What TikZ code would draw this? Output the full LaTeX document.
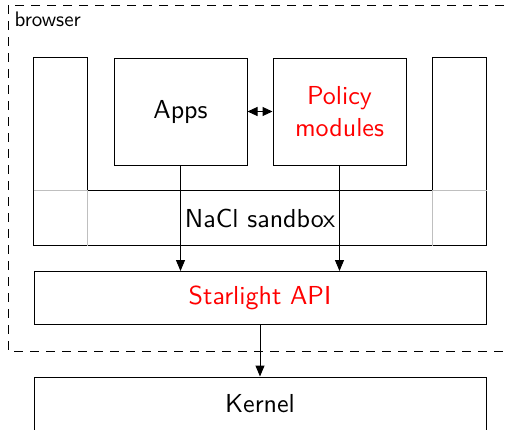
\documentclass[tikz,border=0pt]{standalone}
\usepackage{fontspec}
\newfontfamily\lmsten{lmsans10-regular.otf}
\usetikzlibrary{arrows.meta}
\begin{document}
\begin{tikzpicture}[x=1pt, y=-1pt, line width=1pt,
  txt/.style={font=\lmsten\fontsize{26}{32}\selectfont},
  box/.style={draw, txt, inner sep=0pt, align=center},
  col/.style={inner sep=0pt, minimum width=53pt, minimum height=187pt},
  wide/.style={box, minimum width=452pt, minimum height=53pt},
  layer/.style={box, minimum width=133pt, minimum height=107pt},
  flow/.style={-{Triangle[length=11pt,width=9pt]}},
  flowboth/.style={{Triangle[length=10pt,width=9pt]}-{Triangle[length=10pt,width=9pt]}},
  inner/.style={black!25},
  frame/.style={dash pattern=on 9pt off 7pt}]
  \useasboundingbox (0,0) rectangle (506,429);
  \clip (0,0) rectangle (506,429);

  % browser frame
  \draw[frame] (520,5) -- (8,5) -- (8,351) -- (520,351);
  \node[anchor=base west, inner sep=0pt,
        font=\lmsten\fontsize{21}{25}\selectfont] (browser) at (14,26) {browser};

  % side columns and the sandbox band
  \node[col] (lcol) at (60.5,151.5) {};
  \node[col] (rcol) at (459.5,151.5) {};
  \node[txt, inner sep=0pt, minimum width=452pt, minimum height=54pt] (sandbox) at (260,218) {NaCl sandbox};

  \draw (lcol.south west) -- (lcol.north west) -- (lcol.north east) -- (lcol.east |- sandbox.north);
  \draw (rcol.south east) -- (rcol.north east) -- (rcol.north west) -- (rcol.west |- sandbox.north);
  \draw (sandbox.south west) -- (sandbox.south east);
  \draw (lcol.east |- sandbox.north) -- (rcol.west |- sandbox.north);
  \draw[inner] (sandbox.north west) -- (lcol.east |- sandbox.north) -- (lcol.south east);
  \draw[inner] (sandbox.north east) -- (rcol.west |- sandbox.north) -- (rcol.south west);

  % modules
  \node[layer] (apps) at (180.5,111.5) {Apps};
  \node[layer, text=red] (policy) at (339.5,111.5) {Policy\\modules};
  \node[wide, text=red] (starlight) at (260,298) {Starlight API};
  \node[wide] (kernel) at (260,403.5) {Kernel};

  % connectors
  \draw[flowboth] (apps.east) -- (policy.west);
  \draw[flow] (apps.south) -- (apps.south |- starlight.north);
  \draw[flow] (policy.south) -- (policy.south |- starlight.north);
  \draw[flow] (starlight.south) -- (kernel.north);
\end{tikzpicture}
\end{document}
